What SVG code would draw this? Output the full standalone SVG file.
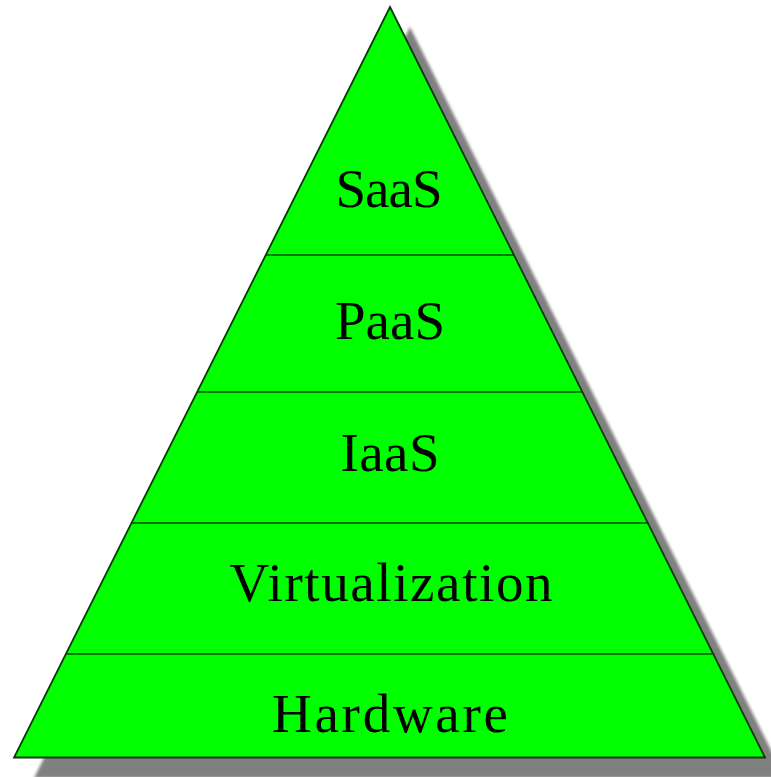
<svg xmlns="http://www.w3.org/2000/svg" width="771" height="777" viewBox="0 0 771 777">
<defs>
<filter id="blur" x="-5%" y="-5%" width="110%" height="110%"><feGaussianBlur stdDeviation="1.5"/></filter>
</defs>
<style>
.lbl{font-family:"Liberation Serif","Times New Roman",serif;font-size:55px;fill:#000;text-anchor:middle}
.div{stroke:#004d00;stroke-width:1.5}
</style>
<rect width="771" height="777" fill="#fff"/>
<polygon points="410,27 785,778 34,778" fill="#808080" filter="url(#blur)"/>
<polygon points="390,7 765,757.5 14,757.5" fill="#00ff00" stroke="#0a3a0a" stroke-width="1.8" stroke-linejoin="miter"/>
<g id="connectors">
<line class="div" x1="265.8" y1="255" x2="514.2" y2="255"/>
<line class="div" x1="197.2" y1="392" x2="582.8" y2="392"/>
<line class="div" x1="131.5" y1="523" x2="648.5" y2="523"/>
<line class="div" x1="65.9" y1="654" x2="714.1" y2="654"/>
</g>
<g id="saas"><text class="lbl" x="389" y="207" textLength="107">SaaS</text></g>
<g id="paas"><text class="lbl" x="390" y="339" textLength="110">PaaS</text></g>
<g id="iaas"><text class="lbl" x="390" y="471" textLength="99">IaaS</text></g>
<g id="virtualization"><text class="lbl" x="391" y="601" textLength="323">Virtualization</text></g>
<g id="hardware"><text class="lbl" x="390" y="732" textLength="236">Hardware</text></g>
</svg>
